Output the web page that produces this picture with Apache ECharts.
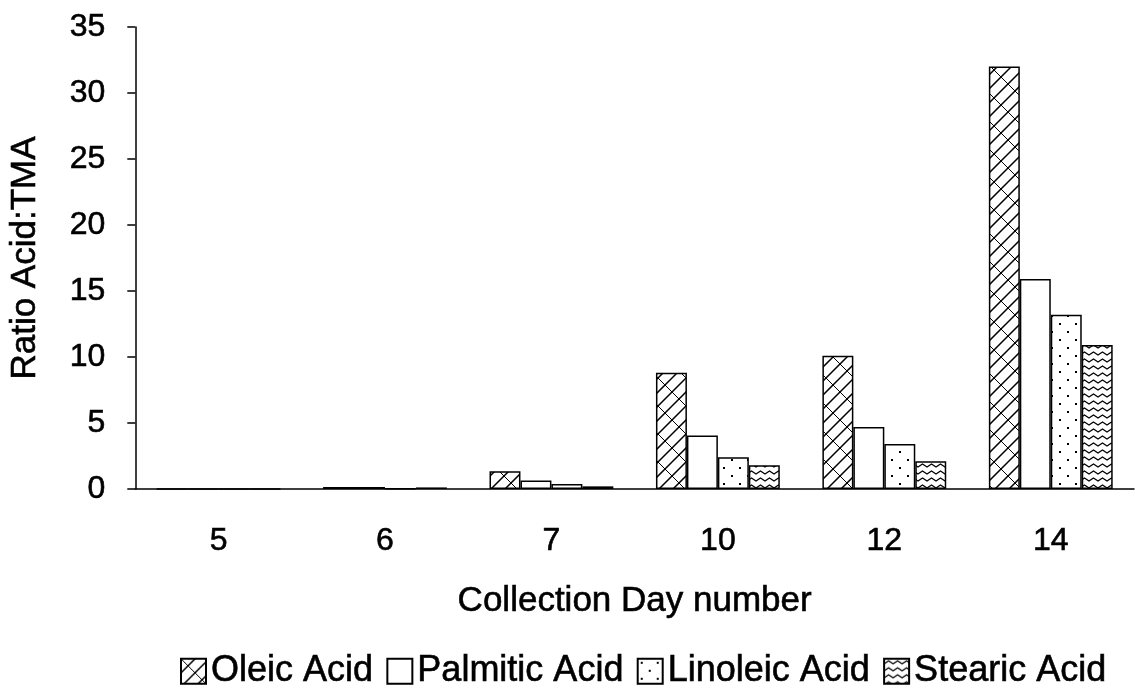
<!DOCTYPE html>
<html><head><meta charset="utf-8">
<script src="https://cdn.jsdelivr.net/npm/echarts@6/dist/echarts.min.js"></script>
<style>html,body{margin:0;padding:0;background:#fff}#c{width:1135px;height:690px}</style>
</head><body><div id="c"></div>
<script>
var categories = ['5','6','7','10','12','14'];
var oleic    = [0, 0.15, 1.35, 8.8, 10.1, 32.0];
var palmitic = [0, 0.15, 0.65, 4.05, 4.7, 15.9];
var linoleic = [0, 0.02, 0.38, 2.4, 3.4, 13.2];
var stearic  = [0, 0.12, 0.2, 1.8, 2.1, 10.9];
var seriesNames = ['Oleic Acid','Palmitic Acid','Linoleic Acid','Stearic Acid'];

function mk(w,h,draw){var c=document.createElement('canvas');c.width=w;c.height=h;var g=c.getContext('2d');g.fillStyle='#fff';g.fillRect(0,0,w,h);g.strokeStyle='#000';g.fillStyle='#000';g.lineWidth=1.3;draw(g);return {image:c,repeat:'repeat'};}
var S = 14;
var patOleic = mk(2*S,2*S,function(g){
  g.beginPath();
  for(var c=-2*S;c<=6*S;c+=S){g.moveTo(c+S*3,-S*3);g.lineTo(c-S*3,S*3);}
  g.lineWidth=1.5;g.stroke();
  g.beginPath();
  for(var i=-3;i<=3;i++){for(var j=-3;j<=3;j++){
    var bx=S*i+S*j, by=-S*i+S*j;
    g.moveTo(bx,by);g.lineTo(bx+S/2,by+S/2);
    var cx=bx+1.5*S, cy=by-0.5*S;
    g.moveTo(cx,cy);g.lineTo(cx+S/2,cy+S/2);
  }}
  g.lineWidth=1.0;g.stroke();
});
var patLin = mk(16,16,function(g){g.fillRect(3,3,2,2);g.fillRect(11,11,2,2);});
var patSte = mk(9,7,function(g){g.beginPath();g.moveTo(-0.5,5.3);g.lineTo(4.5,2);g.lineTo(9.5,5.3);g.stroke();});
var fills = [patOleic,'#fff',patLin,patSte];
var datas = [oleic,palmitic,linoleic,stearic];

var chart = echarts.init(document.getElementById('c'));
var font = 'Liberation Sans, Arial, sans-serif';
function ts(size){return {fontFamily:font,fontSize:size,color:'#000',textBorderColor:'#000',textBorderWidth:0.6};}
chart.setOption({
  animation:false,
  backgroundColor:'#fff',
  grid:{left:133,right:1,top:27,bottom:201},
  legend:{top:648,left:175,itemWidth:25,itemHeight:25,itemGap:13,icon:'rect',
    textStyle:ts(36),
    data:seriesNames},
  xAxis:{type:'category',data:categories,
    name:'Collection Day number',nameLocation:'middle',nameGap:95,
    nameTextStyle:ts(35),
    axisLine:{lineStyle:{color:'#000',width:1.5}},
    axisTick:{length:10,lineStyle:{color:'#000',width:1.5}},
    axisLabel:Object.assign({margin:36},ts(32))},
  yAxis:{type:'value',min:0,max:35,interval:5,
    name:'Ratio Acid:TMA',nameLocation:'middle',nameGap:92,
    nameTextStyle:ts(35),
    axisLine:{show:true,lineStyle:{color:'#000',width:1.5}},
    axisTick:{show:true,length:8,lineStyle:{color:'#000',width:1.5}},
    splitLine:{show:false},
    axisLabel:Object.assign({margin:30},ts(32))},
  series: seriesNames.map(function(n,i){return {name:n,type:'bar',data:datas[i],
    barGap:'0%',barCategoryGap:'25.6%',
    itemStyle:{color:fills[i],borderColor:'#000',borderWidth:1.5}};})
});
</script></body></html>
